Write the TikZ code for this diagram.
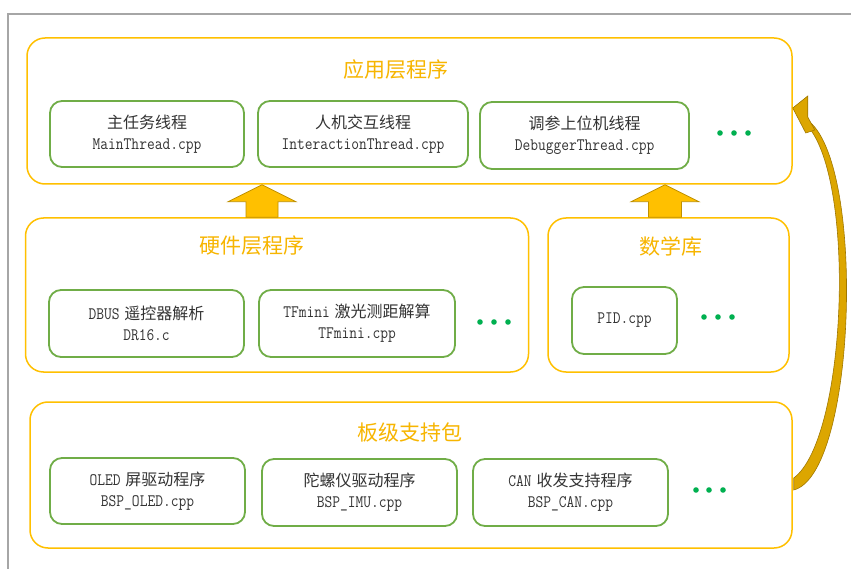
\documentclass[tikz,border=0pt]{standalone}
\usepackage{fontspec}
\newfontfamily\cjk{Noto Sans CJK SC}
\setmonofont[FakeStretch=0.86]{Latin Modern Mono}
\usetikzlibrary{calc}
\definecolor{gold}{HTML}{FFC000}
\definecolor{titlecol}{HTML}{F7B500}
\definecolor{boxgreen}{HTML}{70AD47}
\definecolor{dotgreen}{HTML}{00B050}
\definecolor{framegray}{HTML}{A6A6A6}
\definecolor{txt}{HTML}{333333}
\definecolor{arrowfill}{HTML}{FFC000}
\definecolor{arrowline}{HTML}{BF9000}
\definecolor{curvefill}{HTML}{DCA600}
\definecolor{curveline}{HTML}{A07800}
\newcommand\ZH[1]{{\cjk\fontsize{16}{21}\selectfont #1}}
\newcommand\CD[1]{{\ttfamily\fontsize{17.5}{21}\selectfont #1}}
\begin{document}
\begin{tikzpicture}[x=1pt,y=-1pt,
  layer/.style={draw=gold, line width=1.5pt, rounded corners=18pt, inner sep=0pt},
  ltitle/.style={text=titlecol, font=\cjk\fontsize{21}{24}\selectfont, inner sep=0pt},
  inbox/.style={draw=boxgreen, line width=1.8pt, rounded corners=12pt, align=center,
    text=txt, inner sep=0pt, font=\fontsize{16}{21}\selectfont},
  dotmark/.style={fill=dotgreen},
  blockarrow/.style={fill=arrowfill, draw=arrowline, line width=0.8pt, line join=miter},
  curvearrow/.style={fill=curvefill, draw=curveline, line width=0.6pt}
]
\useasboundingbox (0,0) rectangle (851,569);
\fill[white] (0,0) rectangle (851,569);
\draw[framegray, line width=1.5pt] (8,569) -- (8,14) -- (851,14);

% layers
\node[layer, minimum width=765pt, minimum height=146pt] (app) at (409.5,111) {};
\node[layer, minimum width=503pt, minimum height=154pt] (hw) at (277,295) {};
\node[layer, minimum width=241pt, minimum height=154pt] (math) at (668.5,295) {};
\node[layer, minimum width=762pt, minimum height=146pt] (bsp) at (411,475) {};

% titles
\node[ltitle] (tapp) at (396,70) {应用层程序};
\node[ltitle] (thw) at (252,246) {硬件层程序};
\node[ltitle] (tmath) at (671,246) {数学库};
\node[ltitle] (tbsp) at (410,432) {板级支持包};

% application threads
\node[inbox, minimum width=194pt, minimum height=66pt] (m1) at (147,134) {\ZH{主任务线程}\\\CD{MainThread.cpp}};
\node[inbox, minimum width=210pt, minimum height=66pt] (m2) at (363,134) {\ZH{人机交互线程}\\\CD{InteractionThread.cpp}};
\node[inbox, minimum width=209pt, minimum height=67pt] (m3) at (584.5,135.5) {\ZH{调参上位机线程}\\\CD{DebuggerThread.cpp}};

% hardware
\node[inbox, minimum width=195pt, minimum height=67pt] (h1) at (146.5,323.5) {\CD{DBUS} \ZH{遥控器解析}\\\CD{DR16.c}};
\node[inbox, minimum width=196pt, minimum height=67pt] (h2) at (357,323.5) {\CD{TFmini} \ZH{激光测距解算}\\\CD{TFmini.cpp}};

% math
\node[inbox, minimum width=105pt, minimum height=67pt] (p1) at (624.5,320.5) {\CD{PID.cpp}};

% bsp
\node[inbox, minimum width=195pt, minimum height=66pt] (b1) at (147.5,491) {\CD{OLED} \ZH{屏驱动程序}\\\CD{BSP\_OLED.cpp}};
\node[inbox, minimum width=195pt, minimum height=67pt] (b2) at (359.5,492.5) {\ZH{陀螺仪驱动程序}\\\CD{BSP\_IMU.cpp}};
\node[inbox, minimum width=195pt, minimum height=67pt] (b3) at (570.5,492.5) {\CD{CAN} \ZH{收发支持程序}\\\CD{BSP\_CAN.cpp}};

% dots
\foreach \x/\y in {720/133, 734/133, 748/133, 480/322, 494/322, 508/322, 704/317, 718/317, 732/317, 696/490, 709/490, 723/490}
  \fill[dotmark] (\x,\y) circle (2.8pt);

% block arrows
\coordinate (ua) at (262,0);
\coordinate (ub) at (665,0);
\path (ua |- app.south) coordinate (ta) (ua |- hw.north) coordinate (ba);
\path (ub |- app.south) coordinate (tb) (ub |- math.north) coordinate (bb);
\draw[blockarrow] (ta) -- ($(ta)+(34,17)$) -- ($(ta)+(16,17)$) -- ($(ba)+(16,0)$) -- ($(ba)+(-16,0)$) -- ($(ta)+(-16,17)$) -- ($(ta)+(-34,17)$) -- cycle;
\draw[blockarrow] (tb) -- ($(tb)+(34,17)$) -- ($(tb)+(16.5,17)$) -- ($(bb)+(16.5,0)$) -- ($(bb)+(-16.5,0)$) -- ($(tb)+(-16.5,17)$) -- ($(tb)+(-34,17)$) -- cycle;

% curved arrow from bsp to app
\coordinate (cs) at ($(bsp.east)+(1,9)$);
\coordinate (ce) at ($(app.east)+(0,-3)$);
\draw[curvearrow] ($(cs)+(0,6)$) .. controls ($(cs)+(62,-10)$) and ($(cs)+(72,-314)$) .. ($(ce)+(17,14)$)
  -- ($(ce)+(12,15)$) .. controls ($(cs)+(63,-312)$) and ($(cs)+(54,-46)$) .. ($(cs)+(0,-6)$) -- cycle;
\draw[curvearrow] (ce) -- ($(ce)+(15,-12)$) -- ($(ce)+(15,9)$) -- ($(ce)+(22,22)$) -- ($(ce)+(13,25)$) -- cycle;
\end{tikzpicture}
\end{document}
